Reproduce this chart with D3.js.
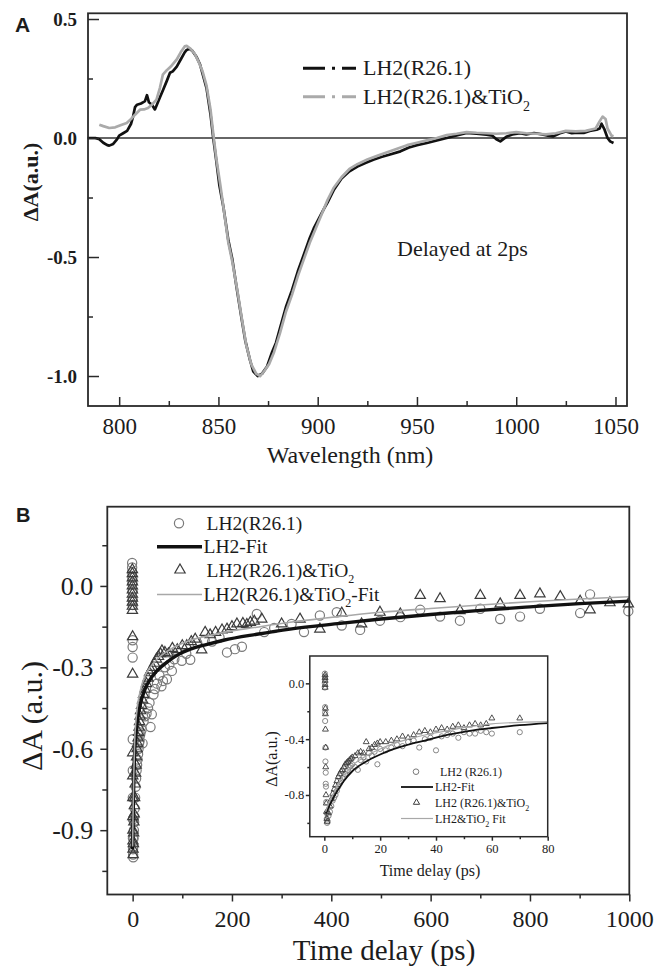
<!DOCTYPE html>
<html><head><meta charset="utf-8">
<script src="https://cdn.jsdelivr.net/npm/d3@7"></script>
<style>
body{margin:0;background:#fff}
svg{display:block}
text{fill:#1c1c1c}
</style>
</head><body>
<svg id="c" width="667" height="967"></svg>
<script>
// ---------------- Panel A data (transient spectra at 2 ps) ----------------
const wlLH2 = [784,786,788,790,792,794,795,797,799,800,802,804,806,807,808,809,811,812,813,814,815,816.5,818,819,820.5,822,824,825.6,827,829,831,833,834,835.5,837,839,840.7,842,844,846,847.4,849,850.5,852.5,855,857,859,861.5,863.5,865.8,867.5,869.8,872,874.5,877,879,881,884,887,890,893,896,898,900.5,903,905,908,912,916,920,924,928,932,936,941.7,946,950,955,960,965,968,972,975,980,985,988,990,992,995,998,1002,1005,1009,1013,1016,1018.7,1022,1025,1028,1031,1034,1037,1040.5,1042,1043,1044.5,1046,1047.3,1049];
const dALH2 = [0.0,0.0,0.0,-0.005,-0.02,-0.03,-0.032,-0.025,-0.005,0.01,0.02,0.03,0.06,0.09,0.13,0.14,0.145,0.15,0.155,0.18,0.15,0.14,0.12,0.14,0.17,0.2,0.24,0.274,0.28,0.3,0.33,0.36,0.37,0.375,0.365,0.34,0.31,0.27,0.21,0.1,0.0,-0.1,-0.2,-0.29,-0.43,-0.51,-0.62,-0.75,-0.85,-0.93,-0.98,-1.0,-0.99,-0.96,-0.9,-0.86,-0.8,-0.71,-0.64,-0.56,-0.49,-0.42,-0.38,-0.34,-0.3,-0.27,-0.22,-0.17,-0.14,-0.12,-0.105,-0.091,-0.08,-0.07,-0.056,-0.04,-0.03,-0.021,-0.01,0.0,0.007,0.015,0.021,0.018,0.014,0.01,-0.005,-0.014,0.005,0.015,0.02,0.015,0.021,0.015,0.01,0.007,0.02,0.028,0.02,0.022,0.021,0.03,0.035,0.04,0.06,0.035,0.0,-0.014,-0.021];
const wlTiO2 = [790,792,795,798,801,803.8,806,808,810.5,812.5,814.5,816.5,818.8,820.5,822,824,826,829,831,833,834,836,838,840,842,844,846,847.5,849,851,853,855,857,859.5,862,864,866.5,869,871,873,875.5,878,881,884,887,890,893,896,899,902,905,908,912,916,920,925,930,935,940,945,950,955,960,965,970,975,980,985,990,995,1000,1005,1010,1015,1020,1025,1030,1035,1040,1042,1043.5,1045,1046,1048,1049];
const dATiO2 = [0.056,0.05,0.042,0.045,0.055,0.063,0.08,0.098,0.119,0.12,0.126,0.14,0.161,0.21,0.266,0.285,0.3,0.33,0.36,0.385,0.387,0.375,0.355,0.32,0.28,0.22,0.12,0.01,-0.09,-0.2,-0.32,-0.44,-0.52,-0.64,-0.77,-0.87,-0.95,-0.99,-1.0,-0.98,-0.95,-0.9,-0.82,-0.73,-0.66,-0.58,-0.51,-0.44,-0.38,-0.32,-0.26,-0.21,-0.165,-0.13,-0.11,-0.09,-0.075,-0.06,-0.045,-0.03,-0.02,-0.01,0.0,0.012,0.018,0.025,0.022,0.02,0.018,0.02,0.025,0.02,0.018,0.015,0.02,0.03,0.028,0.03,0.04,0.07,0.09,0.08,0.04,0.01,0.007];
const ticksAx = [800,850,900,950,1000,1050];
const minorAx = [825,875,925,975,1025];
const ticksAy = [-1.0,-0.5,0.0,0.5];
const minorAy = [-0.75,-0.25,0.25];
const legendA = ["LH2(R26.1)","LH2(R26.1)&TiO"];

// ---------------- Panel B data (kinetics) ----------------
const circT = [-1,-1,-1,-0.5,-0.5,0,0,0,0,0,0,0.2,0.3,0.4,0.5,0.6,0.8,1,1.2,1.5,2,2.5,3,3.5,4,5,6,7,8,9,10,11,12,13,14,15,16,18,20,22,25,28,31,34,36,38.6,42,45,49,54,58,61,65,69,74,79,84,89,99,108,116,130,145,160,175,190,206,220,250,265,285,320,345,377,411,421,458,498,539,579,619,659,700,740,780,820,901,921,998];
const circV = [0.085,0.068,0.05,0.03,0.01,-0.02,-0.05,-0.07,-0.2,-0.225,-0.264,-0.565,-0.68,-0.78,-0.86,-0.93,-0.97,-0.99,-1.0,-0.96,-0.93,-0.9,-0.87,-0.85,-0.82,-0.78,-0.74,-0.71,-0.68,-0.66,-0.64,-0.62,-0.6,-0.58,-0.57,-0.55,-0.54,-0.53,-0.58,-0.5,-0.48,-0.47,-0.45,-0.43,-0.52,-0.473,-0.4,-0.38,-0.36,-0.33,-0.37,-0.35,-0.3,-0.344,-0.29,-0.313,-0.27,-0.239,-0.276,-0.25,-0.272,-0.21,-0.2,-0.205,-0.19,-0.245,-0.233,-0.224,-0.103,-0.17,-0.155,-0.14,-0.17,-0.109,-0.097,-0.146,-0.162,-0.128,-0.115,-0.088,-0.113,-0.128,-0.084,-0.122,-0.113,-0.084,-0.1,-0.031,-0.093];
const triT = [-0.5,-0.5,-0.5,-0.5,-0.5,-0.5,-0.5,-0.5,-0.5,-0.5,-0.5,0,0,0.2,0.3,0.4,0.5,0.6,0.7,0.8,1,1.5,2,2.5,3,3.5,4,5,6,7,8,9,10,11,12,13,14,15,16,18,20,22,25,28,31,34,37,40,44,48,52,56,59,65,72,80,90,100,109,118,126,139,146,156,167,180,190,200,210,222,230,237,245,260,300,337,377,421,461,498,539,579,619,659,700,740,780,820,861,901,921,961,998];
const triV = [0.06,0.045,0.03,0.015,0.0,-0.015,-0.03,-0.045,-0.06,-0.075,-0.09,-0.187,-0.325,-0.615,-0.7,-0.78,-0.85,-0.9,-0.94,-0.97,-0.99,-0.95,-0.91,-0.87,-0.84,-0.81,-0.78,-0.73,-0.69,-0.66,-0.63,-0.6,-0.58,-0.56,-0.54,-0.52,-0.5,-0.48,-0.46,-0.44,-0.42,-0.4,-0.38,-0.36,-0.34,-0.32,-0.31,-0.3,-0.285,-0.27,-0.26,-0.25,-0.239,-0.245,-0.25,-0.23,-0.235,-0.22,-0.22,-0.205,-0.196,-0.236,-0.171,-0.18,-0.171,-0.162,-0.159,-0.15,-0.14,-0.138,-0.142,-0.134,-0.13,-0.122,-0.14,-0.122,-0.159,-0.1,-0.14,-0.097,-0.103,-0.035,-0.047,-0.091,-0.035,-0.066,-0.035,-0.029,-0.039,-0.056,-0.088,-0.062,-0.066];
const fitT = [0,1,2,4,8,15,25,35,49,70,90,116,150,183,250,317,418,500,600,700,800,900,1000];
const fitLH2 = [-0.97,-0.85,-0.75,-0.62,-0.52,-0.44,-0.38,-0.345,-0.313,-0.28,-0.255,-0.233,-0.215,-0.2,-0.178,-0.159,-0.138,-0.122,-0.105,-0.09,-0.077,-0.065,-0.056];
const fitTiO2 = [-0.96,-0.82,-0.72,-0.58,-0.47,-0.39,-0.33,-0.3,-0.27,-0.24,-0.22,-0.2,-0.185,-0.171,-0.152,-0.134,-0.112,-0.097,-0.083,-0.07,-0.058,-0.048,-0.04];
const ticksBx = [0,200,400,600,800,1000];
const minorBx = [100,300,500,700,900];
const ticksBy = [-0.9,-0.6,-0.3,0.0];
const minorBy = [-1.05,-0.75,-0.45,-0.15,0.15];
const legendB = ["LH2(R26.1)","LH2-Fit","LH2(R26.1)&TiO","LH2(R26.1)&TiO"];

// ---------------- Inset data (0-80 ps) ----------------
const inCircT = [0.2,0.2,0.2,0.2,0.2,0.3,0.3,0.3,0.4,0.4,0.5,0.5,0.6,0.7,0.8,0.9,1.0,1.2,1.5,2,2.5,3,3.5,4,4.5,5,5.5,6,6.5,7,7.5,8,8.5,9,9.5,10,11,12,13,14,15,16,17,18,19,20,22,24,26,28,30,32,34,36,38,40,42,44,46,48,50,52,54,56,58,60,70];
const inCircV = [0.07,0.05,0.03,0.0,-0.03,-0.17,-0.21,-0.27,-0.46,-0.56,-0.64,-0.72,-0.74,-0.85,-0.93,-0.97,-1.0,-0.99,-0.95,-0.92,-0.88,-0.84,-0.82,-0.8,-0.77,-0.74,-0.72,-0.7,-0.68,-0.67,-0.65,-0.63,-0.62,-0.6,-0.59,-0.58,-0.6,-0.62,-0.55,-0.53,-0.56,-0.5,-0.52,-0.49,-0.58,-0.47,-0.48,-0.46,-0.44,-0.45,-0.42,-0.41,-0.46,-0.4,-0.39,-0.48,-0.38,-0.37,-0.36,-0.39,-0.35,-0.36,-0.36,-0.34,-0.35,-0.36,-0.35];
const inTriT = [0.3,0.3,0.3,0.3,0.3,0.4,0.4,0.4,0.5,0.5,0.6,0.7,0.8,0.9,1,1.5,2,2.5,3,3.5,4,4.5,5,5.5,6,6.5,7,7.5,8,8.5,9,9.5,10,11,12,13,14,15,16,17,18,19,20,22,24,26,28,30,32,34,36,38,40,42,44,46,48,50,52,54,56,58,60,70];
const inTriV = [0.06,0.04,0.02,-0.01,-0.03,-0.18,-0.22,-0.33,-0.46,-0.6,-0.8,-0.86,-0.92,-0.97,-0.99,-0.93,-0.88,-0.83,-0.79,-0.76,-0.73,-0.7,-0.67,-0.65,-0.63,-0.62,-0.6,-0.58,-0.57,-0.56,-0.55,-0.54,-0.53,-0.52,-0.5,-0.49,-0.5,-0.42,-0.47,-0.46,-0.44,-0.43,-0.42,-0.42,-0.41,-0.4,-0.38,-0.39,-0.37,-0.35,-0.34,-0.35,-0.33,-0.32,-0.33,-0.31,-0.3,-0.32,-0.3,-0.29,-0.3,-0.29,-0.25,-0.25];
const inFitT = [0.5,1,2,3,5,7,10,15,20,25,30,36,44,52,60,70,80];
const inFitLH2 = [-0.93,-0.91,-0.87,-0.83,-0.76,-0.7,-0.63,-0.56,-0.51,-0.47,-0.44,-0.41,-0.37,-0.34,-0.32,-0.3,-0.285];
const inFitTiO2 = [-0.92,-0.89,-0.84,-0.8,-0.72,-0.66,-0.59,-0.52,-0.47,-0.43,-0.4,-0.37,-0.34,-0.31,-0.29,-0.28,-0.275];
const ticksIx = [0,20,40,60,80];
const minorIx = [10,30,50,70];
const ticksIy = [-0.8,-0.4,0.0];
const minorIy = [-1.0,-0.6,-0.2];
const legendI = ["LH2 (R26.1)","LH2-Fit","LH2 (R26.1)&TiO","LH2&TiO"];

// ---------------- drawing ----------------
const SERIF = "'Liberation Serif','Times New Roman',serif";
const SANS = "'Liberation Sans',Arial,sans-serif";
const svg = d3.select("#c");
svg.append("rect").attr("width",667).attr("height",967).attr("fill","#fff");
const AX = "#2a2a2a";
const fmt1 = d => d.toFixed(1);
const T = (x,y,size,str) => svg.append("text").attr("x",x).attr("y",y)
  .style("font-family",SERIF).style("font-size",size+"px").text(str);

function styleAxis(g, size, weight){
  g.select(".domain").remove();
  g.selectAll(".tick line").attr("stroke",AX).attr("stroke-width",1.5);
  g.selectAll(".tick text").style("font-size",size+"px").style("font-weight",weight||"normal")
   .style("font-family",SERIF).attr("fill","#1c1c1c");
}
function box(x, y, lw){
  svg.append("rect").attr("x",x.range()[0]).attr("y",y.range()[1])
    .attr("width",x.range()[1]-x.range()[0]).attr("height",y.range()[0]-y.range()[1])
    .attr("fill","none").attr("stroke",AX).attr("stroke-width",lw);
}

// ===== Panel A =====
const xA = d3.scaleLinear().domain([784.3,1055.8]).range([88,627]);
const yA = d3.scaleLinear().domain([-1.126,0.524]).range([406,13.3]);
svg.append("line").attr("x1",88).attr("x2",627).attr("y1",yA(0)).attr("y2",yA(0))
  .attr("stroke","#333").attr("stroke-width",1.3);
const lineA = d3.line().x(d=>xA(d[0])).y(d=>yA(d[1]));
svg.append("path").attr("d",lineA(d3.zip(wlLH2,dALH2))).attr("fill","none")
  .attr("stroke","#111").attr("stroke-width",2.7).attr("stroke-linejoin","round");
svg.append("path").attr("d",lineA(d3.zip(wlTiO2,dATiO2))).attr("fill","none")
  .attr("stroke","#aaa").attr("stroke-width",2.7).attr("stroke-linejoin","round");

let g = svg.append("g").attr("transform",`translate(0,${yA.range()[0]})`)
  .call(d3.axisBottom(xA).tickValues(ticksAx).tickFormat(d3.format("d")).tickSizeInner(-9).tickSizeOuter(0).tickPadding(12));
styleAxis(g,23);
g = svg.append("g").attr("transform",`translate(0,${yA.range()[0]})`)
  .call(d3.axisBottom(xA).tickValues(minorAx).tickFormat("").tickSizeInner(-5).tickSizeOuter(0));
styleAxis(g,10);
g = svg.append("g").attr("transform",`translate(${xA.range()[0]},0)`)
  .call(d3.axisLeft(yA).tickValues(ticksAy).tickFormat(fmt1).tickSizeInner(-11).tickSizeOuter(0).tickPadding(11));
styleAxis(g,19,"bold");
g = svg.append("g").attr("transform",`translate(${xA.range()[0]},0)`)
  .call(d3.axisLeft(yA).tickValues(minorAy).tickFormat("").tickSizeInner(-5).tickSizeOuter(0));
styleAxis(g,10);
box(xA,yA,1.8);

svg.append("text").attr("x",15).attr("y",32).style("font-family",SANS)
  .style("font-weight","bold").style("font-size","21px").text("A");
T(0,0,22,"ΔA(a.u.)").attr("x",null).attr("y",null)
  .attr("transform","translate(38,182) rotate(-90)").attr("text-anchor","middle").style("font-weight","bold");
T(350,463,24,"Wavelength (nm)").attr("text-anchor","middle");
T(397,256,22,"Delayed at 2ps");

// legend A
[[68.3,"#111"],[96.7,"#aaa"]].forEach((e,i)=>{
  svg.append("line").attr("x1",303).attr("x2",356).attr("y1",e[0]).attr("y2",e[0])
    .attr("stroke",e[1]).attr("stroke-width",3).attr("stroke-dasharray","22,7,3,7,20");
  const t = T(363,e[0]+7,22,legendA[i]);
  if(i===1) t.append("tspan").attr("dy",7).style("font-size","14px").text("2");
});

// ===== Panel B =====
const xB = d3.scaleLinear().domain([-51,1000]).range([107.3,629.3]);
const yB = d3.scaleLinear().domain([-1.137,0.292]).range([894.5,506.7]);
const tri = (s)=>d3.symbol(d3.symbolTriangle).size(s)();
const CIRC = "#7a7a7a", TRI = "#3c3c3c";

g = svg.append("g").attr("transform",`translate(0,${yB.range()[0]})`)
  .call(d3.axisBottom(xB).tickValues(ticksBx).tickFormat(d3.format("d")).tickSizeInner(7).tickSizeOuter(0).tickPadding(8));
styleAxis(g,24);
g = svg.append("g").attr("transform",`translate(0,${yB.range()[0]})`)
  .call(d3.axisBottom(xB).tickValues(minorBx).tickFormat("").tickSizeInner(4).tickSizeOuter(0));
styleAxis(g,10);
g = svg.append("g").attr("transform",`translate(${xB.range()[0]},0)`)
  .call(d3.axisLeft(yB).tickValues(ticksBy).tickFormat(fmt1).tickSizeInner(7).tickSizeOuter(0).tickPadding(7));
styleAxis(g,26);
g = svg.append("g").attr("transform",`translate(${xB.range()[0]},0)`)
  .call(d3.axisLeft(yB).tickValues(minorBy).tickFormat("").tickSizeInner(5).tickSizeOuter(0));
styleAxis(g,10);

const gB = svg.append("g");
gB.selectAll("circle.m").data(d3.zip(circT,circV)).join("circle")
  .attr("cx",d=>xB(d[0])).attr("cy",d=>yB(d[1])).attr("r",4.6)
  .attr("fill","none").attr("stroke",CIRC).attr("stroke-width",1.2);
gB.selectAll("path.t").data(d3.zip(triT,triV)).join("path")
  .attr("d",tri(46)).attr("transform",d=>`translate(${xB(d[0])},${yB(d[1])})`)
  .attr("fill","none").attr("stroke",TRI).attr("stroke-width",1.2);
const lineB = d3.line().x(d=>xB(d[0])).y(d=>yB(d[1])).curve(d3.curveMonotoneX);
gB.append("path").attr("d",lineB(d3.zip(fitT,fitLH2))).attr("fill","none").attr("stroke","#111").attr("stroke-width",3.4);
gB.append("path").attr("d",lineB(d3.zip(fitT,fitTiO2))).attr("fill","none").attr("stroke","#a8a8a8").attr("stroke-width",1.6);
box(xB,yB,1.8);

svg.append("text").attr("x",16).attr("y",522).style("font-family",SANS)
  .style("font-weight","bold").style("font-size","20px").text("B");
T(0,0,30,"ΔA (a.u.)").attr("x",null).attr("y",null)
  .attr("transform","translate(42,716) rotate(-90)").attr("text-anchor","middle");
T(384,960,29,"Time delay (ps)").attr("text-anchor","middle");

// legend B
const lgY = [523.3,546.7,570,594.5];
svg.append("circle").attr("cx",179).attr("cy",lgY[0]).attr("r",4.6).attr("fill","none").attr("stroke",CIRC).attr("stroke-width",1.2);
svg.append("line").attr("x1",157).attr("x2",202).attr("y1",lgY[1]).attr("y2",lgY[1]).attr("stroke","#111").attr("stroke-width",3.4);
svg.append("path").attr("d",tri(46)).attr("transform",`translate(180,${lgY[2]})`).attr("fill","none").attr("stroke",TRI).attr("stroke-width",1.2);
svg.append("line").attr("x1",157).attr("x2",202).attr("y1",lgY[3]).attr("y2",lgY[3]).attr("stroke","#a8a8a8").attr("stroke-width",1.6);
legendB.forEach((s,i)=>{
  const t = T(i%2===0?206.5:203.5,lgY[i]+6.5,19.5,s);
  if(i>=2){ t.append("tspan").attr("dy",6).style("font-size","12px").text("2");
            if(i===3) t.append("tspan").attr("dy",-6).text("-Fit"); }
});

// ===== Inset =====
const xI = d3.scaleLinear().domain([-5.2,80]).range([309.8,547.7]);
const yI = d3.scaleLinear().domain([-1.099,0.196]).range([836.7,656]);
svg.append("rect").attr("x",309.8).attr("y",656).attr("width",547.7-309.8).attr("height",836.7-656).attr("fill","#fff");
g = svg.append("g").attr("transform",`translate(0,${yI.range()[0]})`)
  .call(d3.axisBottom(xI).tickValues(ticksIx).tickFormat(d3.format("d")).tickSizeInner(4).tickSizeOuter(0).tickPadding(3));
styleAxis(g,12.5);
g = svg.append("g").attr("transform",`translate(0,${yI.range()[0]})`)
  .call(d3.axisBottom(xI).tickValues(minorIx).tickFormat("").tickSizeInner(2.5).tickSizeOuter(0));
styleAxis(g,10);
g = svg.append("g").attr("transform",`translate(${xI.range()[0]},0)`)
  .call(d3.axisLeft(yI).tickValues(ticksIy).tickFormat(fmt1).tickSizeInner(4).tickSizeOuter(0).tickPadding(1.5));
styleAxis(g,12.5);
g = svg.append("g").attr("transform",`translate(${xI.range()[0]},0)`)
  .call(d3.axisLeft(yI).tickValues(minorIy).tickFormat("").tickSizeInner(2.5).tickSizeOuter(0));
styleAxis(g,10);

const gI = svg.append("g");
gI.selectAll("circle").data(d3.zip(inCircT,inCircV)).join("circle")
  .attr("cx",d=>xI(d[0])).attr("cy",d=>yI(d[1])).attr("r",2.6)
  .attr("fill","none").attr("stroke",CIRC).attr("stroke-width",0.9);
gI.selectAll("path.t").data(d3.zip(inTriT,inTriV)).join("path")
  .attr("d",tri(15)).attr("transform",d=>`translate(${xI(d[0])},${yI(d[1])})`)
  .attr("fill","none").attr("stroke",TRI).attr("stroke-width",0.9);
const lineI = d3.line().x(d=>xI(d[0])).y(d=>yI(d[1])).curve(d3.curveMonotoneX);
gI.append("path").attr("d",lineI(d3.zip(inFitT,inFitLH2))).attr("fill","none").attr("stroke","#111").attr("stroke-width",1.8);
gI.append("path").attr("d",lineI(d3.zip(inFitT,inFitTiO2))).attr("fill","none").attr("stroke","#a8a8a8").attr("stroke-width",1.2);
box(xI,yI,1.5);

T(0,0,16,"ΔA(a.u.)").attr("x",null).attr("y",null)
  .attr("transform","translate(277,759) rotate(-90)").attr("text-anchor","middle");
T(430,876,16,"Time delay (ps)").attr("text-anchor","middle");

// inset legend
const liY = [771.7,787,802.5,818.5];
svg.append("circle").attr("cx",416).attr("cy",liY[0]).attr("r",2.8).attr("fill","none").attr("stroke",CIRC).attr("stroke-width",1);
svg.append("line").attr("x1",401).attr("x2",433).attr("y1",liY[1]).attr("y2",liY[1]).attr("stroke","#111").attr("stroke-width",1.8);
svg.append("path").attr("d",tri(17)).attr("transform",`translate(416.5,${liY[2]})`).attr("fill","none").attr("stroke",TRI).attr("stroke-width",1);
svg.append("line").attr("x1",401).attr("x2",433).attr("y1",liY[3]).attr("y2",liY[3]).attr("stroke","#a8a8a8").attr("stroke-width",1.2);
legendI.forEach((s,i)=>{
  const t = T(i===0?440:435,liY[i]+4.2,12,s);
  if(i>=2){ t.append("tspan").attr("dy",4).style("font-size","8px").text("2");
            if(i===3) t.append("tspan").attr("dy",-4).text(" Fit"); }
});
</script>
</body></html>
